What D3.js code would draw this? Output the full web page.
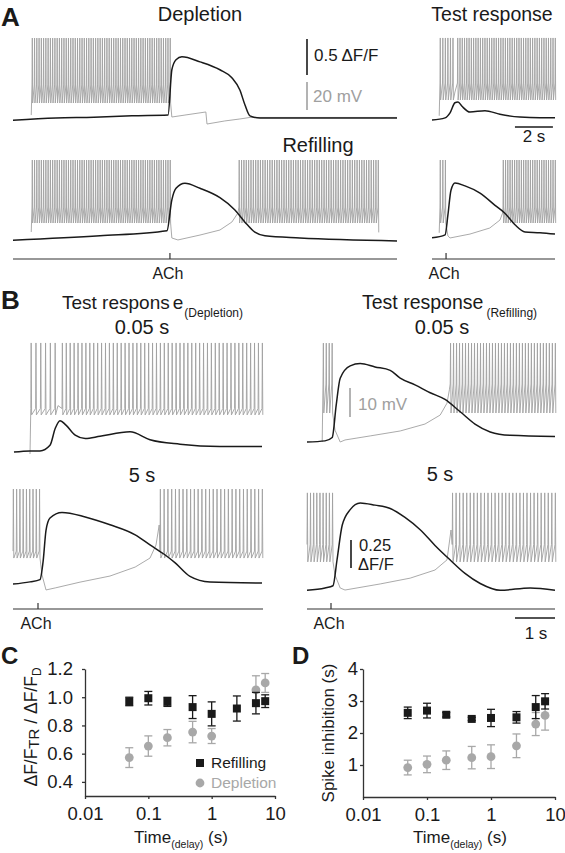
<!DOCTYPE html>
<html><head><meta charset="utf-8">
<script src="https://cdn.jsdelivr.net/npm/d3@7"></script>
<style>
body{margin:0;background:#fff}
svg{display:block}
text{font-family:"Liberation Sans",Arial,Helvetica,sans-serif;fill:#1a1a1a}
</style>
</head><body>
<svg id="fig" width="565" height="853"></svg>
<script>
// ---------------- DATA ----------------
// Panel C: ΔF/F_TR / ΔF/F_D vs delay (s)
const delaysC = [0.05, 0.1, 0.2, 0.5, 1, 2.5, 5, 7];
const refillC = [0.97, 0.993, 0.967, 0.93, 0.882, 0.92, 0.958, 0.972];
const refillCErr = [0.03, 0.048, 0.032, 0.081, 0.085, 0.089, 0.076, 0.045];
const depletionDelaysC = [0.05, 0.1, 0.2, 0.5, 1, 5, 7];
const depletionC = [0.572, 0.654, 0.713, 0.753, 0.725, 1.052, 1.101];
const depletionCErr = [0.07, 0.072, 0.058, 0.076, 0.053, 0.1, 0.067];
const yTicksC = [0.4, 0.6, 0.8, 1.0, 1.2];
// Panel D: spike inhibition (s) vs delay (s)
const delaysD = [0.05, 0.1, 0.2, 0.5, 1, 2.5, 5, 7];
const refillD = [2.63, 2.7, 2.57, 2.44, 2.47, 2.49, 2.81, 2.99];
const refillDErr = [0.18, 0.23, 0.07, 0.05, 0.27, 0.18, 0.36, 0.24];
const depletionD = [0.92, 1.02, 1.15, 1.23, 1.26, 1.6, 2.28, 2.55];
const depletionDErr = [0.23, 0.26, 0.29, 0.35, 0.37, 0.37, 0.36, 0.46];
const yTicksD = [1, 2, 3, 4];
const xTicks = [0.01, 0.1, 1, 10];
const xTickLabels = ["0.01", "0.1", "1", "10"];

// Traces: [time (s, relative to ACh), ΔF/F]
const depletionF = [[-8.26,-0.03],[-6,0],[-4,0.01],[-2,0.03],[-0.1,0.04],[0.1,0.67],[0.32,0.81],[0.63,0.85],[1.58,0.78],[2.63,0.67],[3.26,0.56],[3.68,0.39],[3.95,0.18],[4.21,0.03],[4.74,0],[8,0],[11.95,0]];
const refillingF = [[-8.26,-0.03],[-3.68,0.03],[-0.16,0.1],[0.1,0.53],[0.32,0.69],[0.79,0.76],[1.58,0.69],[2.63,0.56],[3.42,0.39],[3.95,0.22],[4.47,0.08],[5,0.03],[6.84,0],[11.95,-0.04]];
const testDepF = [[-0.74,0],[-0.05,0.03],[0.21,0.1],[0.47,0.24],[0.63,0.25],[0.84,0.19],[1.26,0.11],[2.05,0.13],[2.84,0.08],[3.89,0.04],[4.95,0.03],[5.74,0.03]];
const testRefF = [[-0.74,-0.01],[-0.05,0.03],[0.1,0.31],[0.26,0.65],[0.47,0.75],[1,0.71],[1.79,0.61],[2.58,0.44],[3.1,0.33],[3.63,0.17],[4.16,0.07],[4.95,0.06],[5.74,0.04]];
const trDep005F = [[-0.6,0],[-0.2,0.01],[0.05,0.01],[0.3,0.06],[0.43,0.21],[0.55,0.28],[0.7,0.24],[0.93,0.15],[1.18,0.12],[1.55,0.14],[2.3,0.18],[2.8,0.11],[3.55,0.07],[4.55,0.05],[5.6,0.05]];
const trDep5F = [[-0.625,-0.01],[-0.2,0.01],[0.05,0.03],[0.13,0.2],[0.2,0.47],[0.3,0.58],[0.6,0.63],[1.18,0.59],[1.8,0.52],[2.43,0.43],[2.8,0.34],[3.18,0.25],[3.43,0.18],[3.8,0.06],[4.3,0.01],[5.6,0]];
const trRef005F = [[-0.6,0],[-0.15,0.01],[0.03,0.04],[0.13,0.33],[0.23,0.57],[0.48,0.68],[0.73,0.7],[1.1,0.67],[1.48,0.64],[1.73,0.57],[2.1,0.51],[2.48,0.44],[2.85,0.38],[3.23,0.27],[3.6,0.16],[3.98,0.09],[4.48,0.06],[5.6,0.05]];
const trRef5F = [[-0.6,-0.02],[-0.15,0],[0.05,0.02],[0.15,0.25],[0.28,0.56],[0.48,0.7],[0.73,0.76],[1.1,0.74],[1.48,0.71],[1.85,0.63],[2.23,0.52],[2.6,0.38],[2.98,0.25],[3.35,0.13],[3.73,0.04],[4.23,-0.02],[4.98,0],[5.6,-0.02]];

// Membrane potential: anchors [time, mV] and spike bursts [start, end, nSpikes, peak, threshold, AHP]
const depletionVm = [[-7.3,-57.9],[0.1,-59.3],[0.79,-57.9],[1.89,-55.7],[1.95,-64.3],[2.89,-62.1],[3.68,-60.7],[4.21,-59.6],[11.95,-59.6]];
const depletionBursts = [[-7.26,0.0,62,-2.9,-36.4,-49.3]];
const refillingVm = [[-7.3,-55.7],[0.1,-60],[0.42,-61.4],[1.58,-57.9],[2.63,-54.3],[3.26,-48.6],[3.58,-42.1],[10.99,-56]];
const refillingBursts = [[-7.26,0.0,62,-4.3,-37.9,-49.3],[3.63,10.95,60,-4.3,-37.9,-49.3]];
const testDepVm = [[-0.36,-57],[0.47,-40]];
const testDepBursts = [[-0.32,0.35,6,-1.4,-33.6,-45.7],[0.6,5.74,44,-1.4,-33.6,-45.7]];
const testRefVm = [[-0.36,-57],[0.1,-59.3],[0.21,-60.7],[1.26,-57.9],[2.3,-53.6],[2.84,-47.9],[2.98,-42.9]];
const testRefBursts = [[-0.32,-0.05,3,-5,-38.6,-50],[3.0,5.74,24,-5,-38.6,-50]];
const trDep005Vm = [[-0.2,-60.7],[0.5,-44]];
const trDep005Bursts = [[-0.18,0.42,6,-22.4,-45,-47.2],[0.6,5.6,52,-22.4,-45,-47.2]];
const trDep5Vm = [[0.1,-57.2],[0.2,-62.4],[0.43,-61.7],[1.05,-59.7],[1.8,-57.6],[2.43,-54.5],[2.8,-51.4],[2.95,-46.9],[3.03,-40]];
const trDep5Bursts = [[-0.625,0.03,9,-27.6,-49,-51.4],[3.05,5.6,28,-27.6,-49,-51.4]];
const trRef005Vm = [[-0.22,-60],[0.1,-55.9],[0.23,-60],[0.35,-59.3],[0.98,-57.9],[1.73,-56.2],[2.35,-53.8],[2.73,-50.7],[2.9,-46.6],[2.96,-42]];
const trRef005Bursts = [[-0.2,0.02,4,-25.9,-40,-50],[2.98,5.6,36,-25.9,-40,-50]];
const trRef5Vm = [[0.1,-55.5],[0.23,-60],[0.35,-60.7],[1.23,-58.6],[1.98,-56.6],[2.6,-53.8],[2.9,-50.3],[3.0,-40]];
const trRef5Bursts = [[-0.6,0.03,9,-27.2,-45,-51],[3.03,5.6,30,-27.2,-45,-51]];

// ---------------- DRAWING ----------------
const svg = d3.select("#fig");
const BLACK = "#1a1a1a", GRAY = "#a0a0a0", GRAYMK = "#a8a8a8";

function txt(x, y, s, opt = {}) {
  const t = svg.append("text").attr("x", x).attr("y", y).text(s)
    .attr("font-size", opt.size || 19)
    .attr("text-anchor", opt.anchor || "start");
  if (opt.bold) t.attr("font-weight", "bold");
  if (opt.fill) t.style("fill", opt.fill);
  return t;
}

function tracePanel(frame, y0, kF, kV, fData, vAnchors, bursts, spikeW) {
  const x = d3.scaleLinear().domain([frame.t0, frame.t1]).range([frame.x0, frame.x1]);
  const yF = d3.scaleLinear().domain([0, 1]).range([y0, y0 - kF]);
  const yV = d3.scaleLinear().domain([-60, -50]).range([y0, y0 - 10 * kV]);
  let pts = vAnchors.map(d => d.slice());
  bursts.forEach(b => {
    const [t0, t1, n, pk, thr, ahp] = b;
    for (let i = 0; i < n; i++) {
      const t = n > 1 ? t0 + i * (t1 - t0) / (n - 1) : t0;
      pts.push([t, thr], [t + spikeW * 0.45, pk], [t + spikeW, ahp]);
    }
  });
  pts.sort((a, b) => a[0] - b[0]);
  svg.append("path").attr("d", d3.line().x(d => x(d[0])).y(d => yV(d[1]))(pts))
    .attr("fill", "none").attr("stroke", GRAY).attr("stroke-width", 0.9);
  svg.append("path").attr("d", d3.line().curve(d3.curveMonotoneX).x(d => x(d[0])).y(d => yF(d[1]))(fData))
    .attr("fill", "none").attr("stroke", BLACK).attr("stroke-width", 1.5);
  return {x, yF, yV};
}

function timeAxis(frame, y, achLabelY) {
  const x = d3.scaleLinear().domain([frame.t0, frame.t1]).range([frame.x0, frame.x1]);
  svg.append("line").attr("x1", frame.x0).attr("x2", frame.x1).attr("y1", y).attr("y2", y)
    .attr("stroke", "#333").attr("stroke-width", 1.2);
  svg.append("line").attr("x1", x(0)).attr("x2", x(0)).attr("y1", y - 6).attr("y2", y)
    .attr("stroke", "#333").attr("stroke-width", 1.2);
  txt(x(0) - 2, achLabelY, "ACh", {size: 16, anchor: "middle"});
  return x;
}

// ---- Panel A ----
const A_LEFT = {x0: 13, x1: 397, t0: -8.26, t1: 11.95};
const A_RIGHT = {x0: 432, x1: 555, t0: -0.74, t1: 5.74};
txt(1, 26, "A", {size: 26, bold: true});
txt(200, 21, "Depletion", {size: 20, anchor: "middle"});
txt(492, 21, "Test response", {size: 19.5, anchor: "middle"});
txt(318, 152, "Refilling", {size: 20, anchor: "middle"});

tracePanel(A_LEFT, 118, 72, 1.4, depletionF, depletionVm, depletionBursts, 0.035);
tracePanel(A_LEFT, 238, 72, 1.4, refillingF, refillingVm, refillingBursts, 0.035);
const ar = tracePanel(A_RIGHT, 120, 72, 1.4, testDepF, testDepVm, testDepBursts, 0.035);
tracePanel(A_RIGHT, 237, 72, 1.4, testRefF, testRefVm, testRefBursts, 0.035);
timeAxis(A_LEFT, 259, 279);
timeAxis(A_RIGHT, 259, 279);
// scale bars A
svg.append("line").attr("x1", 307).attr("x2", 307).attr("y1", 39).attr("y2", 39 + 72 * 0.5)
  .attr("stroke", BLACK).attr("stroke-width", 1.6);
txt(314, 61, "0.5 ΔF/F", {size: 17});
svg.append("line").attr("x1", 307).attr("x2", 307).attr("y1", 82).attr("y2", 82 + 1.4 * 20)
  .attr("stroke", GRAY).attr("stroke-width", 1.6);
txt(313, 102, "20 mV", {size: 17, fill: "#a0a0a0"});
svg.append("line").attr("x1", ar.x(3.63)).attr("x2", ar.x(5.63)).attr("y1", 127).attr("y2", 127)
  .attr("stroke", BLACK).attr("stroke-width", 1.6);
txt(534, 142, "2 s", {size: 17, anchor: "middle"});

// ---- Panel B ----
const B_LEFT = {x0: 13, x1: 263, t0: -0.625, t1: 5.625};
const B_RIGHT = {x0: 307, x1: 555, t0: -0.6, t1: 5.6};
txt(1, 309, "B", {size: 26, bold: true});
const tl = txt(62, 309, "Test respons", {size: 19});
tl.append("tspan").attr("dx", 3).text("e");
tl.append("tspan").attr("font-size", 12).attr("dy", 8).attr("dx", 1).text("(Depletion)");
const tr = txt(362, 309, "Test response", {size: 19.5});
tr.append("tspan").attr("font-size", 12).attr("dy", 8).attr("dx", 3).text("(Refilling)");
txt(142, 334, "0.05 s", {size: 20, anchor: "middle"});
txt(442, 334, "0.05 s", {size: 20, anchor: "middle"});
txt(142, 482, "5 s", {size: 20, anchor: "middle"});
txt(440, 481, "5 s", {size: 20, anchor: "middle"});

tracePanel(B_LEFT, 452, 112, 2.9, trDep005F, trDep005Vm, trDep005Bursts, 0.02);
tracePanel(B_LEFT, 583, 112, 2.9, trDep5F, trDep5Vm, trDep5Bursts, 0.02);
const br = tracePanel(B_RIGHT, 442, 112, 2.9, trRef005F, trRef005Vm, trRef005Bursts, 0.02);
tracePanel(B_RIGHT, 588, 112, 2.9, trRef5F, trRef5Vm, trRef5Bursts, 0.02);
timeAxis(B_LEFT, 609, 629);
timeAxis(B_RIGHT, 609, 629);
// scale bars B
svg.append("line").attr("x1", 350).attr("x2", 350).attr("y1", 388).attr("y2", 388 + 2.9 * 10)
  .attr("stroke", GRAY).attr("stroke-width", 1.6);
txt(358, 410, "10 mV", {size: 17, fill: "#a0a0a0"});
svg.append("line").attr("x1", 351).attr("x2", 351).attr("y1", 540).attr("y2", 540 + 112 * 0.25)
  .attr("stroke", BLACK).attr("stroke-width", 1.6);
txt(359, 551, "0.25", {size: 16.5});
txt(358, 570, "ΔF/F", {size: 16.5});
svg.append("line").attr("x1", br.x(4.6)).attr("x2", br.x(5.6)).attr("y1", 618).attr("y2", 618)
  .attr("stroke", BLACK).attr("stroke-width", 1.6);
txt(536, 639, "1 s", {size: 17, anchor: "middle"});

// ---- Panels C & D ----
function scatterPanel(x0, x1, yScale, yTicks, yFmt, pad) {
  const x = d3.scaleLog().domain([0.01, 10]).range([x0, x1]);
  const g = svg.append("g");
  const yb = yScale.range()[0];
  g.append("g").attr("transform", `translate(0,${yb})`)
    .call(d3.axisBottom(x).tickValues(xTicks).tickFormat((d, i) => xTickLabels[i]).tickSize(3).tickPadding(8).tickSizeOuter(0))
    .call(a => a.selectAll("text").attr("font-size", 18.5).style("fill", "#1a1a1a").attr("font-family", null))
    .call(a => a.selectAll("line,path").attr("stroke", "#333").attr("stroke-width", 1.3));
  g.append("g").attr("transform", `translate(${x0},0)`)
    .call(d3.axisLeft(yScale).tickValues(yTicks).tickFormat(yFmt).tickSize(3).tickPadding(pad).tickSizeOuter(0))
    .call(a => a.selectAll("text").attr("font-size", 18.5).style("fill", "#1a1a1a").attr("font-family", null))
    .call(a => a.selectAll("line,path").attr("stroke", "#333").attr("stroke-width", 1.3));
  return {x, g};
}

function series(p, yScale, xs, ys, es, shape, color) {
  const gg = p.g.append("g");
  xs.forEach((xv, i) => {
    const cx = p.x(xv), cy = yScale(ys[i]);
    const yt = yScale(ys[i] + es[i]), ybt = yScale(ys[i] - es[i]);
    gg.append("line").attr("x1", cx).attr("x2", cx).attr("y1", yt).attr("y2", ybt).attr("stroke", color).attr("stroke-width", 1.3);
    [yt, ybt].forEach(yy => gg.append("line").attr("x1", cx - 4).attr("x2", cx + 4).attr("y1", yy).attr("y2", yy).attr("stroke", color).attr("stroke-width", 1.3));
    if (shape === "square") gg.append("rect").attr("x", cx - 4).attr("y", cy - 4).attr("width", 8).attr("height", 8).attr("fill", color);
    else gg.append("circle").attr("cx", cx).attr("cy", cy).attr("r", 4.4).attr("fill", color);
  });
}

const yC = d3.scaleLinear().domain([0.3, 1.2]).range([796, 669]);
const pC = scatterPanel(85, 275, yC, yTicksC, d3.format(".1f"), 9);
series(pC, yC, depletionDelaysC, depletionC, depletionCErr, "circle", GRAYMK);
series(pC, yC, delaysC, refillC, refillCErr, "square", BLACK);
txt(1, 664, "C", {size: 24, bold: true});
// legend
svg.append("rect").attr("x", 196).attr("y", 759).attr("width", 8).attr("height", 8).attr("fill", BLACK);
txt(211, 768, "Refilling", {size: 15.5});
svg.append("circle").attr("cx", 200).attr("cy", 783).attr("r", 4.4).attr("fill", GRAYMK);
txt(211, 788, "Depletion", {size: 15.5, fill: "#a8a8a8"});
// axis titles C
const tC = svg.append("text").attr("transform", "translate(37,727) rotate(-90)").attr("text-anchor", "middle").attr("font-size", 17.5).text("ΔF/F");
tC.append("tspan").attr("font-size", 15).attr("dy", 2).text("TR");
tC.append("tspan").attr("dy", -2).text(" / ΔF/F");
tC.append("tspan").attr("font-size", 12).attr("dy", 4).text("D");
const xtC = svg.append("text").attr("x", 181).attr("y", 843).attr("text-anchor", "middle").attr("font-size", 17).text("Time");
xtC.append("tspan").attr("font-size", 10.5).attr("dy", 5).text("(delay)");
xtC.append("tspan").attr("dy", -5).text(" (s)");

const yD = d3.scaleLinear().domain([0, 4]).range([797, 669]);
const pD = scatterPanel(363, 555, yD, yTicksD, d3.format("d"), 2);
series(pD, yD, delaysD, depletionD, depletionDErr, "circle", GRAYMK);
series(pD, yD, delaysD, refillD, refillDErr, "square", BLACK);
txt(292, 664, "D", {size: 24, bold: true});
svg.append("text").attr("transform", "translate(334,733) rotate(-90)").attr("text-anchor", "middle").attr("font-size", 17).text("Spike inhibition (s)");
const xtD = svg.append("text").attr("x", 460).attr("y", 843).attr("text-anchor", "middle").attr("font-size", 17).text("Time");
xtD.append("tspan").attr("font-size", 10.5).attr("dy", 5).text("(delay)");
xtD.append("tspan").attr("dy", -5).text(" (s)");
</script>
</body></html>
